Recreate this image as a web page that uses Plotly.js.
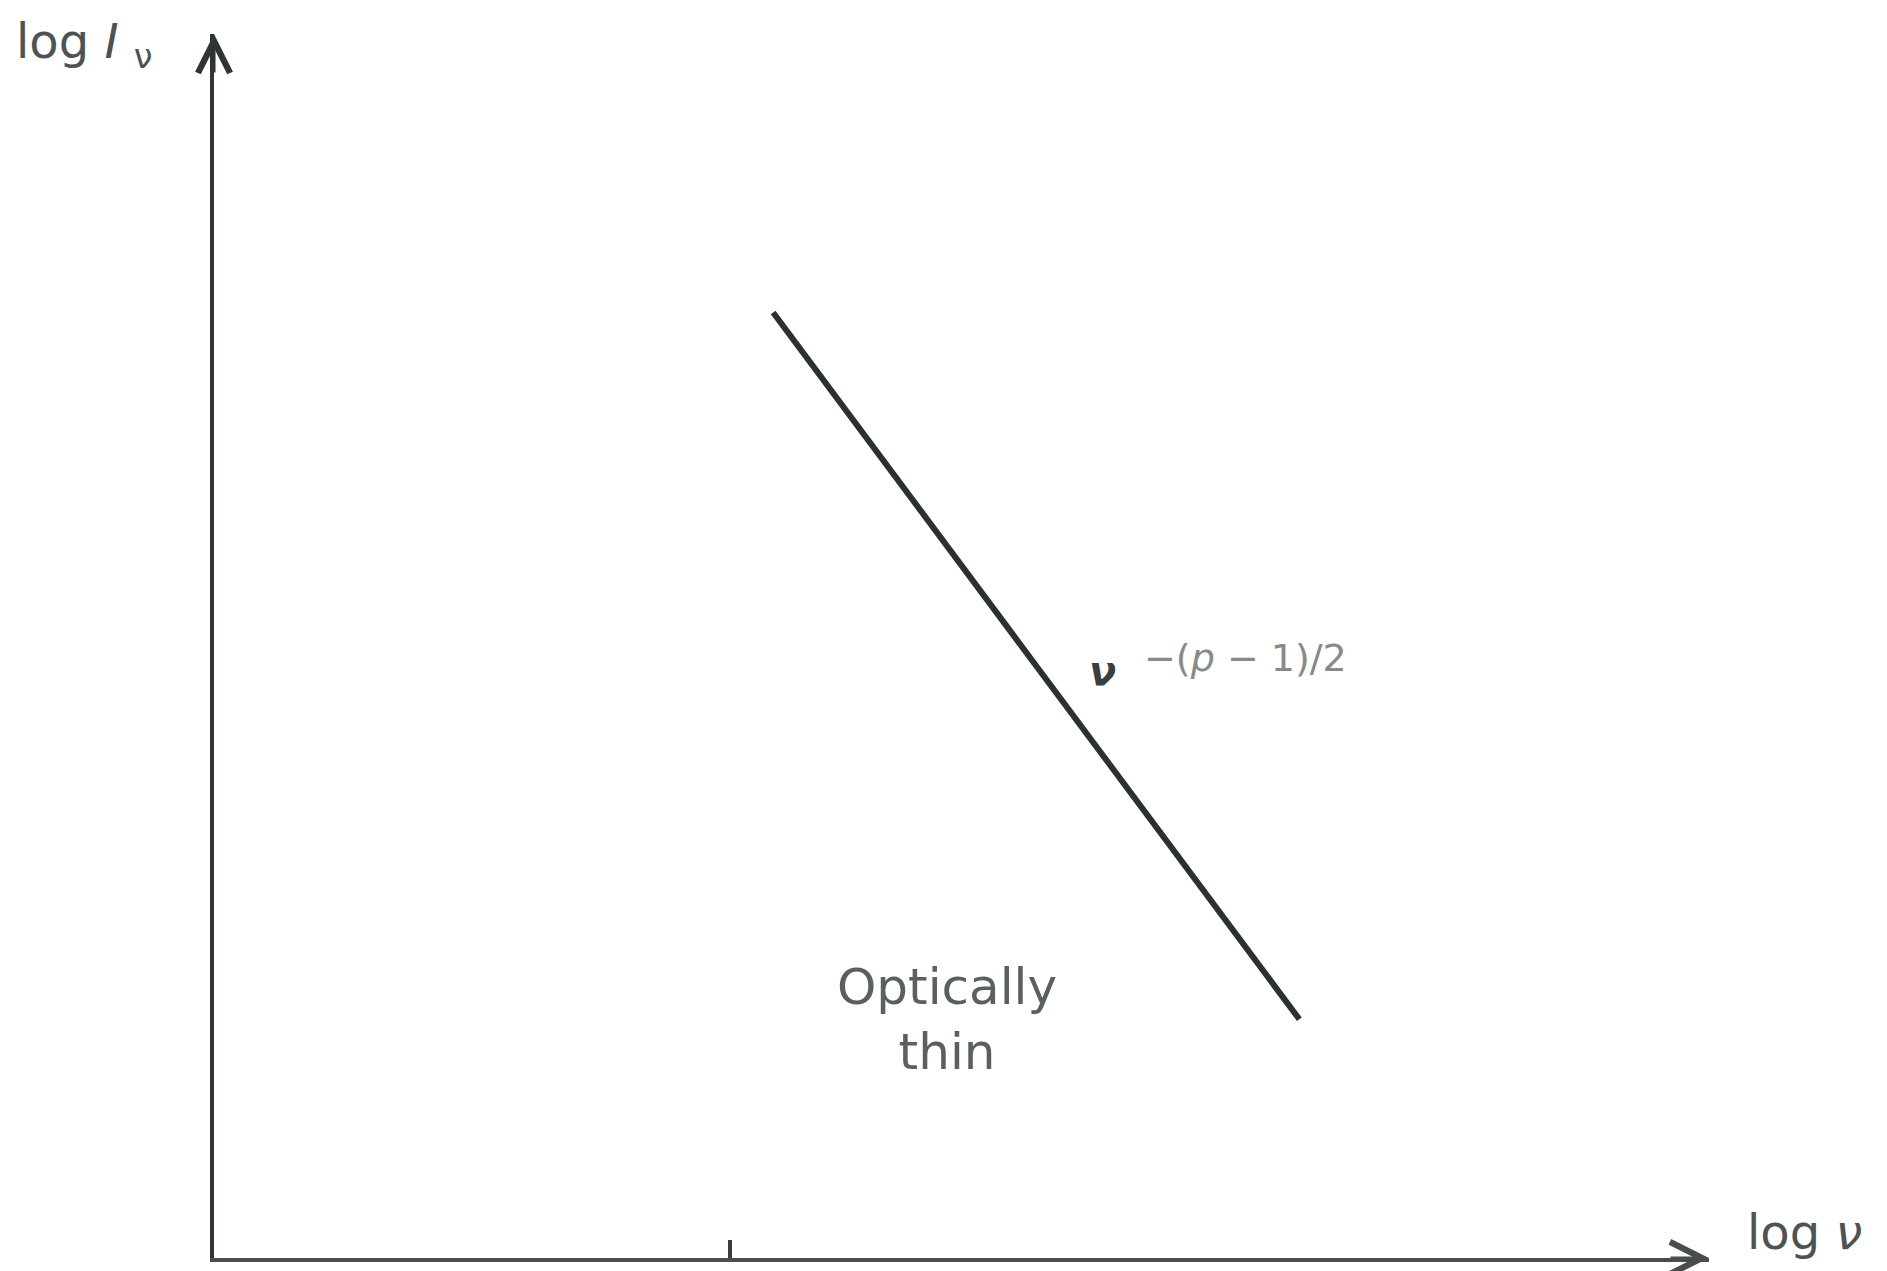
<!DOCTYPE html>
<html>
<head>
<meta charset="utf-8">
<script src="https://cdn.plot.ly/plotly-3.0.1.min.js"></script>
<style>
  html, body { margin: 0; padding: 0; background: #ffffff; }
  #chart { width: 1887px; height: 1271px; }
</style>
</head>
<body>
<div id="chart"></div>
<script>
// Synchrotron spectrum, optically thin branch: log I_nu falls as nu^-(p-1)/2
const logNu = [3.74, 7.26];          // log frequency at the ends of the power-law segment
const logI = [6.18, 1.56];           // log intensity at those ends
const breakTick = [3.45];            // marked frequency on the log nu axis
const xRange = [0, 10];
const yRange = [0, 8];

const W = 1887, H = 1271;
const px = v => v / W;               // pixel -> paper x
const py = v => 1 - v / H;           // pixel -> paper y

const fontFam = '"DejaVu Sans", "Liberation Sans", sans-serif';

const traces = [{
  type: 'scatter',
  mode: 'lines',
  x: logNu,
  y: logI,
  line: { color: '#2b3030', width: 6 },
  hoverinfo: 'skip',
  showlegend: false
}];

const layout = {
  width: W,
  height: H,
  margin: { l: 0, r: 0, t: 0, b: 0 },
  paper_bgcolor: '#ffffff',
  plot_bgcolor: '#ffffff',
  showlegend: false,
  xaxis: {
    domain: [px(214), px(1709)],
    range: xRange,
    showgrid: false,
    zeroline: false,
    showline: true,
    linecolor: '#4a4d4d',
    linewidth: 4,
    tickmode: 'array',
    tickvals: breakTick,
    ticks: 'inside',
    ticklen: 18,
    tickwidth: 4,
    tickcolor: '#3a3d3d',
    showticklabels: false,
    fixedrange: true
  },
  yaxis: {
    domain: [py(1258), py(34)],
    range: yRange,
    showgrid: false,
    zeroline: false,
    showline: true,
    linecolor: '#2f3434',
    linewidth: 4,
    ticks: '',
    showticklabels: false,
    fixedrange: true
  },
  annotations: [
    // arrowheads at the ends of both axes
    {
      xref: 'x', yref: 'y', x: xRange[1], y: yRange[0],
      ax: -40, ay: 0, text: '', showarrow: true,
      arrowhead: 5, arrowsize: 2.1, arrowwidth: 3, arrowcolor: '#4a4d4d', standoff: 0
    },
    {
      xref: 'x', yref: 'y', x: xRange[0], y: yRange[1],
      ax: 0, ay: 40, text: '', showarrow: true,
      arrowhead: 5, arrowsize: 2.1, arrowwidth: 3, arrowcolor: '#2f3434', standoff: 0
    },
    // axis labels
    {
      xref: 'paper', yref: 'paper', x: px(14), y: py(44),
      xanchor: 'left', yanchor: 'middle', showarrow: false,
      text: 'log <i>I</i> <sub>ν</sub>',
      font: { family: fontFam, size: 48, color: '#4d5252' }
    },
    {
      xref: 'paper', yref: 'paper', x: px(1745), y: py(1232),
      xanchor: 'left', yanchor: 'middle', showarrow: false,
      text: 'log <i>ν</i>',
      font: { family: fontFam, size: 48, color: '#4d5252' }
    },
    // slope label next to the line
    {
      xref: 'paper', yref: 'paper', x: px(1102), y: py(671),
      xanchor: 'center', yanchor: 'middle', showarrow: false,
      text: '<b><i>ν</i></b>',
      font: { family: fontFam, size: 40, color: '#3a3e3e' }
    },
    {
      xref: 'paper', yref: 'paper', x: px(1142), y: py(658),
      xanchor: 'left', yanchor: 'middle', showarrow: false,
      text: '−(<i>p</i> − 1)/2',
      font: { family: fontFam, size: 38, color: '#858a8a' }
    },
    // region label
    {
      xref: 'paper', yref: 'paper', x: px(947), y: py(1019),
      xanchor: 'center', yanchor: 'middle', showarrow: false,
      text: 'Optically<br>thin',
      font: { family: fontFam, size: 50, color: '#5a5f5f' }
    }
  ]
};

Plotly.newPlot('chart', traces, layout, { staticPlot: true, displayModeBar: false });
</script>
</body>
</html>
